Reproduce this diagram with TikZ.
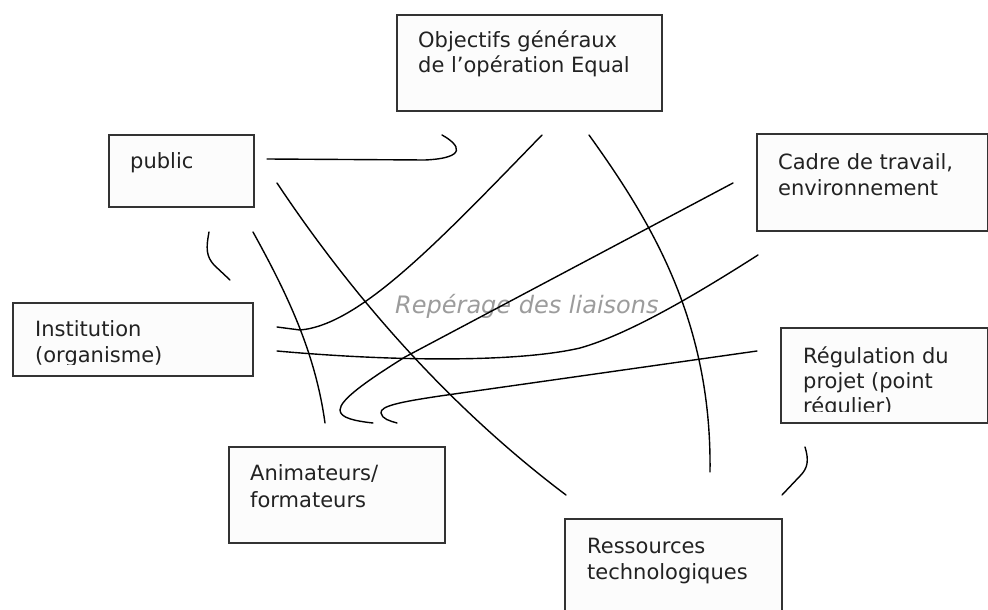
\documentclass[tikz,border=0pt]{standalone}
\usepackage{fontspec}
\setmainfont{DejaVu Sans}
\definecolor{boxline}{HTML}{333333}
\definecolor{boxfill}{HTML}{FCFCFC}
\definecolor{txtcol}{HTML}{222222}
\definecolor{labcol}{HTML}{9C9C9C}
\begin{document}
\begin{tikzpicture}[x=1pt,y=-1pt,
  box/.style={draw=boxline,fill=boxfill,line width=1.8pt,rectangle,anchor=north west,inner sep=0pt,outer sep=0pt},
  txt/.style={anchor=base west,inner sep=0pt,text=txtcol,font=\fontsize{21}{26}\selectfont},
  lab/.style={anchor=base west,inner sep=0pt,text=labcol,font=\fontsize{24}{28}\selectfont\itshape},
  conn/.style={draw=black,line width=1.4pt,line cap=round,line join=round}]
\useasboundingbox (0,0) rectangle (988,610);
\clip (0,0) rectangle (988,610);
\fill[white] (0,0) rectangle (988,610);

% boxes
\node[box,minimum width=265pt,minimum height=96pt] (obj) at (397,15) {};
\node[box,minimum width=145pt,minimum height=72pt] (pub) at (109,135) {};
\node[box,minimum width=231pt,minimum height=97pt] (cad) at (757,134) {};
\node[box,minimum width=240pt,minimum height=73pt] (inst) at (13,303) {};
\node[box,minimum width=207pt,minimum height=95pt] (reg) at (781,328) {};
\node[box,minimum width=216pt,minimum height=96pt] (anim) at (229,447) {};
\node[box,minimum width=217pt,minimum height=100pt] (res) at (565,519) {};

% texts
\node[txt] (objA) at (418,48) {Objectifs généraux};
\node[txt] (objB) at (418,73) {de l’opération Equal};
\node[txt] (pubA) at (130,168) {public};
\node[txt] (cadA) at (778,169) {Cadre de travail,};
\node[txt] (cadB) at (778,195) {environnement};
\begin{scope}
  \clip (13,303) rectangle (253,364);
  \node[txt] (instA) at (35,336) {Institution};
  \node[txt] (instB) at (35,362) {(organisme)};
\end{scope}
\begin{scope}
  \clip (781,328) rectangle (988,411);
  \node[txt] (regA) at (803,363) {Régulation du};
  \node[txt] (regB) at (803,388) {projet (point};
  \node[txt] (regC) at (803,413) {régulier)};
\end{scope}
\node[txt] (animA) at (250,480) {Animateurs/};
\node[txt] (animB) at (250,507) {formateurs};
\node[txt] (resA) at (587,553) {Ressources};
\node[txt] (resB) at (587,579) {technologiques};

\node[lab] (liaisons) at (395,313) {Repérage des liaisons};

% connector end points
\coordinate (pubObj1) at (267,159);
\coordinate (pubObj2) at (425,160);
\coordinate (pubObj3) at (442,135);
\coordinate (pubRes1) at (277,183);
\coordinate (pubRes2) at (566,495);
\coordinate (objInst1) at (542,135);
\coordinate (objInst2) at (300,330);
\coordinate (objInst3) at (277,327);
\coordinate (objRes1) at (589,135);
\coordinate (objRes2) at (710,472);
\coordinate (cadHk1) at (733,183);
\coordinate (cadHk2) at (405,357);
\coordinate (cadHk3) at (340,410);
\coordinate (cadHk4) at (373,423);
\coordinate (instCad1) at (277,351);
\coordinate (instCad2) at (580,348);
\coordinate (instCad3) at (758,255);
\coordinate (regHk1) at (757,351);
\coordinate (regHk2) at (440,396);
\coordinate (regHk3) at (381,413);
\coordinate (regHk4) at (397,423);
\coordinate (pubAnim1) at (253,232);
\coordinate (pubAnim2) at (325,423);
\coordinate (pubHk1) at (209,232);
\coordinate (pubHk2) at (214,265);
\coordinate (pubHk3) at (230,280);
\coordinate (regRes1) at (805,447);
\coordinate (regRes2) at (800,476);
\coordinate (regRes3) at (782,495);

% connectors
\draw[conn] (pubObj1) -- (pubObj2) .. controls (468,158) and (460,145) .. (pubObj3);
\draw[conn] (pubRes1) .. controls (345,285) and (440,400) .. (pubRes2);
\draw[conn] (objInst1) .. controls (440,240) and (360,325) .. (objInst2) -- (objInst3);
\draw[conn] (objRes1) .. controls (650,220) and (712,320) .. (objRes2);
\draw[conn] (cadHk1) -- (cadHk2) .. controls (365,382) and (340,400) .. (cadHk3) .. controls (340,418) and (355,421) .. (cadHk4);
\draw[conn] (instCad1) .. controls (400,362) and (520,362) .. (instCad2) .. controls (630,334) and (700,292) .. (instCad3);
\draw[conn] (regHk1) -- (regHk2) .. controls (400,402) and (380,406) .. (regHk3) .. controls (382,419) and (390,421) .. (regHk4);
\draw[conn] (pubAnim1) .. controls (285,290) and (315,350) .. (pubAnim2);
\draw[conn] (pubHk1) .. controls (206,248) and (206,256) .. (pubHk2) -- (pubHk3);
\draw[conn] (regRes1) .. controls (809,460) and (808,468) .. (regRes2) -- (regRes3);
\end{tikzpicture}
\end{document}
